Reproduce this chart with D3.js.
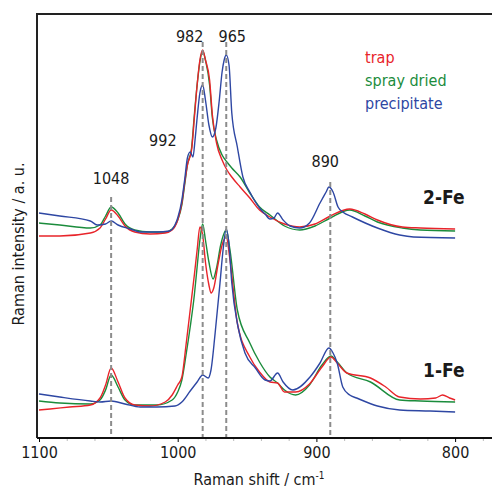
<!DOCTYPE html>
<html>
<head>
<meta charset="utf-8">
<script src="https://cdn.jsdelivr.net/npm/d3@7"></script>
<style>
  body { margin: 0; background: #fff; }
  text { font-family: Tahoma, "DejaVu Sans Condensed", "Noto Sans", sans-serif; fill: #1a1a1a; }
</style>
</head>
<body>
<script>
// spectra: [Raman shift (cm-1), intensity (a.u.)]
const fe2Trap = [[1100,202],[1085,202],[1063,205],[1056,210],[1052,219],[1048,228],[1043,222],[1038,212],[1031,206],[1020,204],[1009,205],[1004,208],[1000,218],[997,235],[995,255],[993,273],[990,288],[988,320],[986,353],[984,378],[982,388],[980,378],[977,358],[975,323],[972,295],[968,278],[964.5,268],[961,261],[955,251],[948,240],[941,228],[933.5,221],[923,214],[912,211],[901,214],[890,222],[876,229],[865,224],[856,218],[838,211],[825,210],[800,209]];
const fe2Spray = [[1100,215],[1085,213],[1063,210],[1056,213],[1052,222],[1048,231],[1043,225],[1038,214],[1031,208],[1020,206],[1009,206],[1004,209],[1000,218],[997,233],[995,253],[993,273],[990,290],[988,323],[986,353],[984,376],[982,387],[980,378],[977,353],[975,320],[972,298],[968,283],[964.5,276],[961,270],[955,261],[948,245],[941,231],[933.5,223],[923,212],[912,208],[901,212],[890,220],[876,228],[865,222],[856,216],[838,210],[825,208],[800,207]];
const fe2Precip = [[1100,225],[1085,222],[1063,217],[1058,213],[1052,214],[1048,217],[1043,213],[1034,209],[1027,206],[1015,206],[1006,207],[1002,213],[1000,220],[997,238],[995,258],[993,280],[991,286],[989,281],[987.5,298],[986,320],[984,345],[982,353],[980,338],[977.5,313],[975,301],[972.5,310],[970,338],[968,366],[966.5,378],[965,383],[963,373],[961,325],[957,291],[953,261],[948,246],[941,230],[937,224],[933.5,219],[930.6,220],[928,225],[924,218],[919,212],[912,210],[905,215],[897.4,235],[893,246],[891,251],[888,246],[884.4,231],[881,226],[874,221],[856,210],[840,203],[830,201],[800,200]];

const fe1Trap = [[1100,28],[1092,29],[1078,31],[1063,33],[1056,40],[1052,53],[1048,70],[1043,56],[1038,40],[1031,33],[1020,32],[1009,36],[1004,43],[1000,53],[997,61],[994,93],[991,128],[988,163],[986,188],[984,211],[982,203],[980,176],[977.5,153],[976,145],[974,150],[971,173],[968,193],[965,201],[962.3,178],[957,115],[948,81],[941,66],[933.5,56],[928,55],[923,46],[915,46],[905,54],[896,71],[889.5,81],[885,75],[878,65],[861,60],[850,51],[840,41],[825,39],[814,40],[809,43],[804,40],[800,38]];
const fe1Spray = [[1100,37],[1085,35],[1063,34],[1056,38],[1052,48],[1048,63],[1043,51],[1038,38],[1031,33],[1015,33],[1004,38],[1000,46],[997,58],[994,83],[991,111],[988,143],[986,171],[984,198],[982,214],[980,198],[977.5,176],[974.5,159],[972,170],[969,193],[965,208],[962.3,188],[957,128],[948,95],[941,76],[933.5,61],[928,55],[923,48],[915,43],[905,53],[896,73],[889.5,82],[885,76],[878,65],[861,56],[840,38],[825,37],[800,36]];
const fe1Precip = [[1100,44],[1085,41],[1063,37],[1056,36],[1048,37],[1038,34],[1027,31],[1015,31],[1002,32],[997,36],[991,47],[986,56],[982,63],[978,60],[976,68],[973,105],[969.5,155],[967.3,188],[965,209],[963,193],[961,155],[956.5,111],[951.5,85],[944,70],[937,58],[933.5,57],[928,65],[924,56],[917,48],[904.6,61],[897.4,75],[891,90],[888,85],[885,75],[881,51],[876,43],[871,40],[856,32],[840,28],[818,27],[800,26]];

const seriesNames = ["trap", "spray dried", "precipitate"];
const seriesColors = ["#e8242a", "#1b8c3c", "#2e47a3"];
const xTicks = [1100, 1000, 900, 800];
const peakLines = [1048, 982, 965, 890];
const peakLineTops = [241, 396, 396, 256];
const peakLabels = ["1048", "992", "982", "965", "890"];
const peakLabelX = [1048, 992, 982, 965, 890];
const peakLabelY = [254, 292, 396, 396, 271];
const sampleNames = ["2-Fe", "1-Fe"];

let width = 492;
let height = 488;

let svg = d3.select("body")
  .append("svg")
  .attr("width", width)
  .attr("height", height);

let x = d3.scaleLinear()
  .domain([1100, 773.4])
  .range([39, 492]);

let y = d3.scaleLinear()
  .domain([0, 424])
  .range([438, 14]);

let line = d3.line()
  .x(d => x(d[0]))
  .y(d => y(d[1]))
  .curve(d3.curveMonotoneX);

// spectra, drawn green, red, blue
let spectra = [
  [fe2Spray, 1], [fe1Spray, 1],
  [fe2Trap, 0], [fe1Trap, 0],
  [fe2Precip, 2], [fe1Precip, 2]
];
svg.append("g")
  .selectAll("path")
  .data(spectra)
  .enter()
  .append("path")
  .attr("fill", "none")
  .attr("stroke", d => seriesColors[d[1]])
  .attr("stroke-width", 1.4)
  .attr("stroke-linejoin", "round")
  .attr("d", d => line(d[0]));

// dashed peak markers
svg.append("g")
  .selectAll("line")
  .data(peakLines)
  .enter()
  .append("line")
  .attr("x1", d => x(d))
  .attr("x2", d => x(d))
  .attr("y1", (d, i) => y(peakLineTops[i]))
  .attr("y2", y(0))
  .attr("stroke", "#8c8c8c")
  .attr("stroke-width", 2)
  .attr("stroke-dasharray", "5,3");

// peak labels (small offsets so they sit beside the lines)
let labelDx = [0, -26, -13, 6, -5];
svg.append("g")
  .selectAll("text")
  .data(peakLabels)
  .enter()
  .append("text")
  .attr("x", (d, i) => x(peakLabelX[i]) + labelDx[i])
  .attr("y", (d, i) => y(peakLabelY[i]))
  .attr("text-anchor", "middle")
  .style("font-size", "16px")
  .text(d => d);

// frame
svg.append("path")
  .attr("d", "M37,438V14H492")
  .attr("fill", "none")
  .attr("stroke", "#222")
  .attr("stroke-width", 2);

// minor ticks
let minor = d3.range(1100, 773, -20).filter(v => v % 100 !== 0);
svg.append("g")
  .attr("transform", "translate(0,438)")
  .call(d3.axisBottom(x).tickValues(minor).tickSize(3).tickFormat(""))
  .call(g => g.select(".domain").remove())
  .call(g => g.selectAll("line").attr("stroke", "#bbb"));

let xAxis = svg.append("g")
  .attr("transform", "translate(0,438)")
  .call(d3.axisBottom(x).tickValues(xTicks).tickSize(4).tickPadding(5).tickFormat(d3.format("d")));
xAxis.select(".domain")
  .attr("d", "M37,0H492")
  .attr("stroke", "#111")
  .attr("stroke-width", 2);
xAxis.selectAll("text")
  .style("font-size", "16px")
  .style("font-family", null);

// axis titles
let xt = svg.append("text")
  .attr("x", 259)
  .attr("y", 485)
  .attr("text-anchor", "middle")
  .style("font-size", "16px");
xt.append("tspan").text("Raman shift / cm");
xt.append("tspan").attr("dy", -6).style("font-size", "10px").text("-1");

svg.append("text")
  .attr("transform", "translate(24,244) rotate(-90)")
  .attr("text-anchor", "middle")
  .style("font-size", "16px")
  .text("Raman intensity / a. u.");

// legend
svg.append("g")
  .selectAll("text")
  .data(seriesNames)
  .enter()
  .append("text")
  .attr("x", 365)
  .attr("y", (d, i) => 63 + i * 23)
  .style("font-size", "16px")
  .style("fill", (d, i) => seriesColors[i])
  .text(d => d);

// sample names
svg.append("g")
  .selectAll("text")
  .data(sampleNames)
  .enter()
  .append("text")
  .attr("x", 423)
  .attr("y", (d, i) => i === 0 ? 204 : 377)
  .style("font-size", "19px")
  .style("font-weight", "bold")
  .text(d => d);
</script>
</body>
</html>
